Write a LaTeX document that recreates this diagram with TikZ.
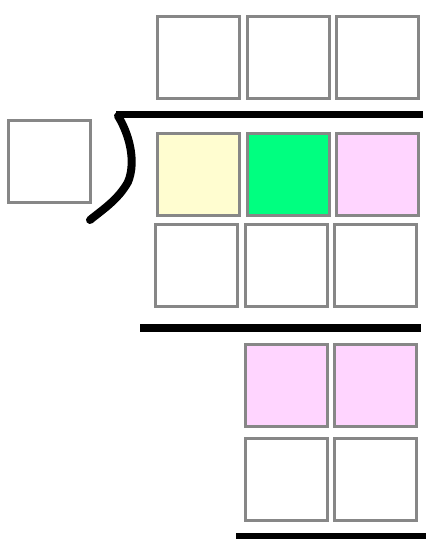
\documentclass[tikz,border=0pt]{standalone}
\usepackage{amsmath}
\usepackage{amssymb}

\definecolor{cellyellow}{RGB}{255,253,208}
\definecolor{cellgreen}{RGB}{0,255,128}
\definecolor{cellpink}{RGB}{255,213,255}
\definecolor{cellgray}{RGB}{135,135,135}

\tikzset{
  cell/.style={draw=cellgray,line width=3pt,minimum size=82pt,inner sep=0pt,fill=white},
  bar/.style={line width=7pt}
}

\begin{document}
\begin{tikzpicture}[x=1pt,y=-1pt]
        \useasboundingbox (0,0) rectangle (427,539); % picture frame
        \clip (0,0) rectangle (427,539);
        \node[cell] (d) at (49.5,161) {}; % divisor
        \node[cell] (q1) at (198,57.5) {}; % quotient row
        \node[cell] (q2) at (288,57.5) {};
        \node[cell] (q3) at (377,57.5) {};
        \node[cell,fill=cellyellow] (a1) at (198,174) {}; % dividend row
        \node[cell,fill=cellgreen] (a2) at (288,174) {};
        \node[cell,fill=cellpink] (a3) at (377,174) {};
        \node[cell] (b1) at (196,265) {}; % product row
        \node[cell] (b2) at (286,265) {};
        \node[cell] (b3) at (375,265) {};
        \node[cell,fill=cellpink] (c2) at (286,385.5) {}; % remainder row
        \node[cell,fill=cellpink] (c3) at (375,385.5) {};
        \node[cell] (e2) at (286,479) {}; % next product row
        \node[cell] (e3) at (375,479) {};
        \draw[bar] (423,114) -- (116,114); % top of division bracket
        \draw[line width=8pt,line cap=round] (118,116) .. controls (128,132) and (137,160) .. (128,182) .. controls (118,200) and (102,210) .. (90,220); % curved side of bracket
        \draw[bar,line width=8pt] (140,328) -- (421,328); % first subtraction line
        \draw[bar] (236,536) -- (426,536); % second subtraction line
    \end{tikzpicture}
\end{document}
